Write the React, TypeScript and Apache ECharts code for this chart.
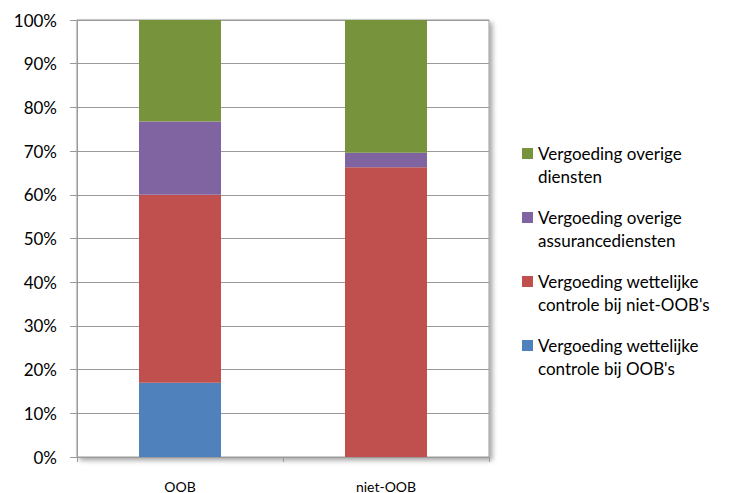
import React, { useEffect, useRef } from "react";
import * as echarts from "echarts";

const categories = ["OOB", "niet-OOB"];
const seriesNames = [
  "Vergoeding wettelijke\ncontrole bij OOB's",
  "Vergoeding wettelijke\ncontrole bij niet-OOB's",
  "Vergoeding overige\nassurancediensten",
  "Vergoeding overige\ndiensten",
];
const wettelijkeOOB = [17, 0];
const wettelijkeNietOOB = [43, 66.3];
const overigeAssurance = [16.8, 3.3];
const overigeDiensten = [23.2, 30.4];
const colors = ["#4f81bd", "#c0504d", "#8064a2", "#77933c"];
const yTicks = [0, 10, 20, 30, 40, 50, 60, 70, 80, 90, 100];

const FONT = "Lato, 'Open Sans', sans-serif";

export default function App() {
  const ref = useRef<HTMLDivElement>(null);
  useEffect(() => {
    if (!ref.current) return;
    const chart = echarts.init(ref.current, undefined, { renderer: "svg" });
    const values = [wettelijkeOOB, wettelijkeNietOOB, overigeAssurance, overigeDiensten];
    chart.setOption({
      animation: false,
      grid: {
        left: 77,
        right: 241,
        top: 20,
        bottom: 35,
        show: true,
        backgroundColor: "#ffffff",
        borderColor: "#9a9a9a",
        borderWidth: 1,
        shadowColor: "rgba(0,0,0,0.35)",
        shadowBlur: 5,
        shadowOffsetX: 3,
        shadowOffsetY: 3,
      },
      legend: {
        orient: "vertical",
        left: 522,
        top: 119,
        padding: 0,
        itemWidth: 11,
        itemHeight: 11,
        itemGap: -5,
        icon: "rect",
        data: [seriesNames[3], seriesNames[2], seriesNames[1], seriesNames[0]],
        formatter: (name: string) => "\n" + name,
        textStyle: {
          fontFamily: FONT,
          fontSize: 17,
          color: "#000",
          lineHeight: 23,
        },
      },
      xAxis: {
        type: "category",
        data: categories,
        axisLine: { lineStyle: { color: "#9a9a9a" } },
        axisTick: { show: true, length: 5, lineStyle: { color: "#9a9a9a" } },
        axisLabel: { color: "#000", fontFamily: FONT, fontSize: 14, margin: 22 },
      },
      yAxis: {
        type: "value",
        min: 0,
        max: 100,
        interval: 10,
        axisLine: { show: true, lineStyle: { color: "#9a9a9a" } },
        axisTick: { show: true, inside: false, length: 7, lineStyle: { color: "#9a9a9a" } },
        splitLine: { lineStyle: { color: "#9a9a9a" } },
        axisLabel: {
          color: "#000",
          fontFamily: FONT,
          fontSize: 17,
          margin: 20,
          formatter: (v: number) => (yTicks.includes(v) ? v + "%" : ""),
        },
      },
      series: values.map((d, i) => ({
        name: seriesNames[i],
        type: "bar",
        stack: "total",
        barWidth: 82,
        data: d,
        itemStyle: { color: colors[i] },
      })),
    });
    return () => chart.dispose();
  }, []);
  return <div ref={ref} style={{ width: 730, height: 493, position: "absolute", left: 0, top: 0 }} />;
}
